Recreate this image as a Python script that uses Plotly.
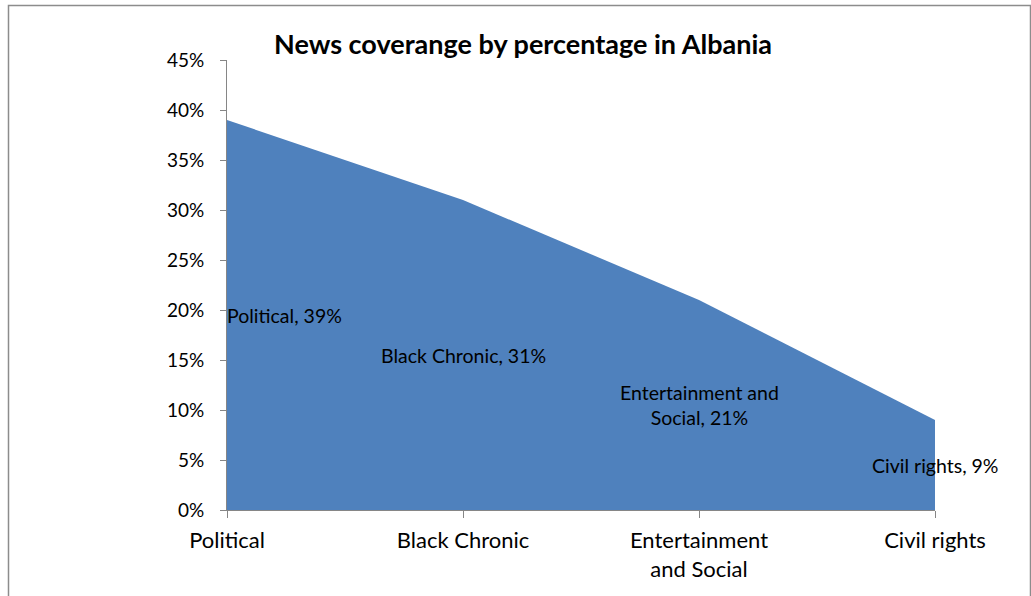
import plotly.graph_objects as go

categories = ["Political", "Black Chronic", "Entertainment and Social", "Civil rights"]
tick_labels = ["Political", "Black Chronic", "Entertainment<br>and Social", "Civil rights"]
values = [39, 31, 21, 9]
label_texts = ["Political, 39%", "Black Chronic, 31%", "Entertainment and<br>Social, 21%", "Civil rights, 9%"]
y_ticks = [0, 5, 10, 15, 20, 25, 30, 35, 40, 45]

FONT = "Lato, Calibri, Carlito, sans-serif"
xs = list(range(len(categories)))

fig = go.Figure()
fig.add_trace(go.Scatter(
    x=xs, y=values, mode="lines", fill="tozeroy",
    line=dict(color="#4F81BD", width=0), fillcolor="#4F81BD",
    hoverinfo="skip", showlegend=False,
))

for i, (v, t) in enumerate(zip(values, label_texts)):
    anchor = "left" if i == 0 else "center"
    fig.add_annotation(x=xs[i], y=v / 2, text=t, showarrow=False,
                       xanchor=anchor, yanchor="middle", xshift=-2 if i == 0 else 0,
                       font=dict(family=FONT, size=19.5, color="#000000"))

W, H = 1031, 596
L, R, T, B = 227, 96, 60, 86
pw, ph = W - L - R, H - T - B
fig.add_shape(type="rect", xref="paper", yref="paper",
              x0=(8.5 - L) / pw, x1=(1030.5 - L) / pw,
              y0=-(100) / ph, y1=(ph + T - 5.5) / ph,
              line=dict(color="#8c8c8c", width=1.5), layer="below")

fig.update_layout(
    width=W, height=H,
    margin=dict(l=L, r=R, t=T, b=B),
    paper_bgcolor="white", plot_bgcolor="white",
    title=dict(text="<b>News coverange by percentage in Albania</b>",
               x=523 / W, xanchor="center", y=1 - 45 / H, yanchor="middle",
               font=dict(family=FONT, size=27, color="#000000")),
    xaxis=dict(range=[0, 3], tickmode="array", tickvals=xs, ticktext=tick_labels,
               showgrid=False, zeroline=False, showline=True, linecolor="#868686",
               linewidth=1, ticks="outside", ticklen=7, tickcolor="#868686",
               ticklabelstandoff=4,
               tickfont=dict(family=FONT, size=22, color="#000000")),
    yaxis=dict(range=[0, 45], tickmode="array", tickvals=y_ticks,
               ticktext=[f"{t}%" for t in y_ticks],
               showgrid=False, zeroline=False, showline=True, linecolor="#868686",
               linewidth=1, ticks="outside", ticklen=6, tickcolor="#868686",
               ticklabelstandoff=12,
               tickfont=dict(family=FONT, size=19, color="#000000")),
)

fig.write_html("out.html", config={"displayModeBar": False},
               post_script="document.body.style.margin='0';document.body.style.padding='0';")
